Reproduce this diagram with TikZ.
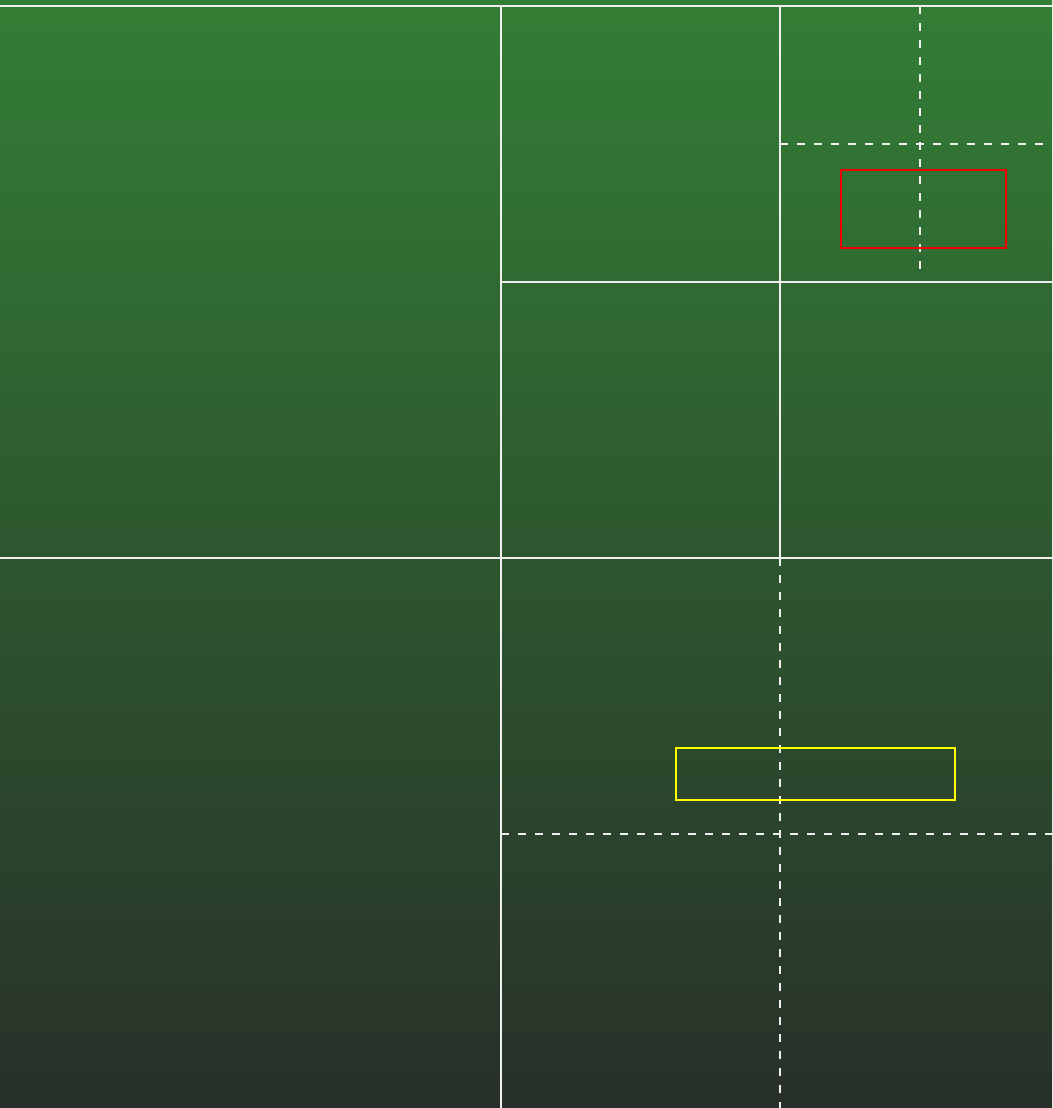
\documentclass[tikz,border=0pt]{standalone}
\definecolor{bgtop}{RGB}{51,126,53}
\definecolor{bgbot}{RGB}{40,48,41}
\definecolor{boxred}{RGB}{240,0,0}
\definecolor{boxyel}{RGB}{255,255,0}
\tikzset{
  solidline/.style={draw=white!94!black, line width=2pt},
  dashline/.style={draw=white!94!black, line width=2pt, dash pattern=on 8pt off 9pt},
  hitbox/.style={line width=2pt, fill=none},
}
\begin{document}
\begin{tikzpicture}[x=1pt,y=-1pt]
\useasboundingbox (0,0) rectangle (1052,1108);
\shade[top color=bgtop, bottom color=bgbot] (0,0) rectangle (1052,1108);
% solid split lines
\draw[solidline] (0,6) -- (1052,6);
\draw[solidline] (501,6) -- (501,1108);
\draw[solidline] (0,558) -- (1052,558);
\draw[solidline] (780,6) -- (780,558);
\draw[solidline] (501,282) -- (1052,282);
% dashed split lines
\draw[dashline] (920,6) -- (920,275);
\draw[dashline] (780,144) -- (1052,144);
\draw[dashline] (780,558) -- (780,1108);
\draw[dashline] (501,834) -- (1052,834);
% boxes
\draw[hitbox, draw=boxred] (841,170) rectangle (1006,248);
\draw[hitbox, draw=boxyel] (676,748) rectangle (955,800);
\end{tikzpicture}
\end{document}
